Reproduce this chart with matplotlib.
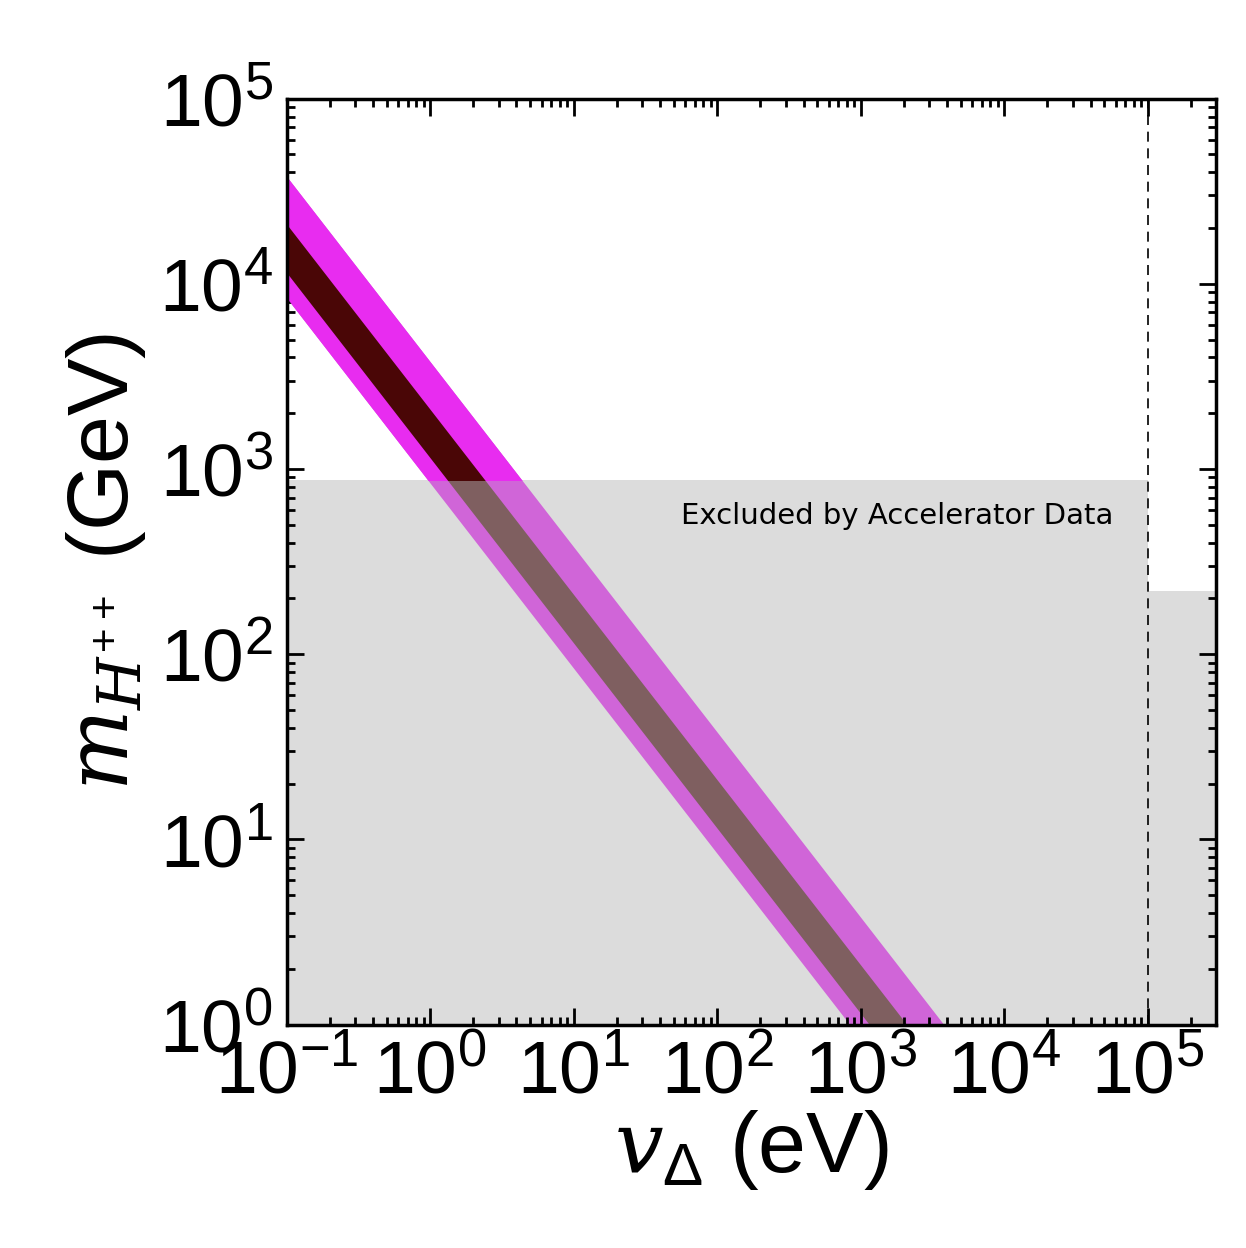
import numpy as np
import matplotlib
matplotlib.use("Agg")
import matplotlib.pyplot as plt
from matplotlib.patches import Rectangle

plt.rcParams["font.family"] = "Liberation Sans"
plt.rcParams["mathtext.fontset"] = "custom"
plt.rcParams["mathtext.rm"] = "Liberation Sans"
plt.rcParams["mathtext.it"] = "DejaVu Serif:italic"

# ── Data ──────────────────────────────────────────────────────────────────────
v_delta = np.array([0.1, 1e4])            # eV
band_outer = (840.0, 3800.0)               # m * v product range (GeV eV), magenta
band_inner = (1150.0, 2100.0)              # dark band
excl_mass_low_v = 870.0                    # GeV, accelerator bound for v < 1e5 eV
excl_mass_high_v = 220.0                   # GeV, for v > 1e5 eV
v_cut = 1e5
xlim = (0.1, 3e5)
ylim = (1.0, 1e5)

fig = plt.figure(figsize=(12.46, 12.48), dpi=100)
ax = fig.add_axes([0.230, 0.179, 0.746, 0.742])
ax.set_xscale("log")
ax.set_yscale("log")
ax.set_xlim(*xlim)
ax.set_ylim(*ylim)

# exclusion regions
ax.add_patch(Rectangle((xlim[0], ylim[0]), v_cut - xlim[0], excl_mass_low_v - ylim[0],
                       facecolor="#dcdcdc", edgecolor="none", zorder=0))
ax.add_patch(Rectangle((v_cut, ylim[0]), xlim[1] - v_cut, excl_mass_high_v - ylim[0],
                       facecolor="#dcdcdc", edgecolor="none", zorder=0))
ax.axvline(v_cut, color="black", ls=(0, (6, 4)), lw=1.2, zorder=3)

# muted bands (inside excluded region)
ax.fill_between(v_delta, band_outer[0] / v_delta, band_outer[1] / v_delta,
                color="#d065d8", lw=0, zorder=1)
ax.fill_between(v_delta, band_inner[0] / v_delta, band_inner[1] / v_delta,
                color="#7f5f60", lw=0, zorder=1)

# vivid bands above exclusion
clip = Rectangle((xlim[0], excl_mass_low_v), xlim[1], ylim[1], transform=ax.transData)
p1 = ax.fill_between(v_delta, band_outer[0] / v_delta, band_outer[1] / v_delta,
                     color="#e82cf0", lw=0, zorder=2)
p2 = ax.fill_between(v_delta, band_inner[0] / v_delta, band_inner[1] / v_delta,
                     color="#4a0606", lw=0, zorder=2)
p1.set_clip_path(clip)
p2.set_clip_path(clip)

ax.text(5.8e4, 560, "Excluded by Accelerator Data", ha="right", va="center",
        fontsize=21, fontfamily="DejaVu Sans", zorder=4)

ax.tick_params(which="both", direction="in", top=True, right=True, width=2)
ax.tick_params(which="major", length=12, labelsize=54, pad=10)
ax.tick_params(which="minor", length=6)
ax.xaxis.set_major_locator(matplotlib.ticker.LogLocator(base=10, numticks=20))
ax.xaxis.set_minor_locator(matplotlib.ticker.LogLocator(base=10, subs=np.arange(2, 10), numticks=20))
ax.yaxis.set_minor_locator(matplotlib.ticker.LogLocator(base=10, subs=np.arange(2, 10), numticks=20))
for s in ax.spines.values():
    s.set_linewidth(2.5)

ax.set_xlabel(r"$v_{\Delta}$ (eV)", fontsize=62, labelpad=0)
ax.set_ylabel(r"$m_{H^{++}}$ (GeV)", fontsize=62, labelpad=8)

fig.savefig("out.png", dpi=100)
